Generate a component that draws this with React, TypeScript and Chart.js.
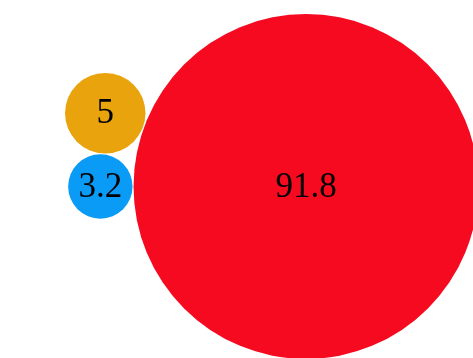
import React, { useEffect, useRef } from "react";
import { Chart, registerables } from "chart.js";

Chart.register(...registerables);

const labels = ["Red", "Orange", "Blue"];
const values = [91.8, 5, 3.2];
const colors = ["#F50A20", "#E8A30D", "#0A9BF7"];

const WIDTH = 473;
const HEIGHT = 358;
const PX_PER_UNIT = 18;
const GAP = 1 / PX_PER_UNIT;

// Pack circles: largest at origin, smallest tangent on its left, middle tangent above both
function pack(vals: number[]) {
  const r = vals.map((v) => Math.sqrt(v));
  const [rRed, rOr, rBl] = r;
  const red = { x: 0, y: 0 };
  const blue = { x: -(rRed + rBl + GAP), y: 0 };
  const d1 = rRed + rOr + GAP; // to red
  const d2 = rBl + rOr + GAP; // to blue
  const D = red.x - blue.x;
  const a = (d2 * d2 - d1 * d1 + D * D) / (2 * D);
  const h = Math.sqrt(Math.max(0, d2 * d2 - a * a));
  const orange = { x: blue.x + a, y: h };
  return [
    { x: red.x, y: red.y, r: rRed * PX_PER_UNIT },
    { x: orange.x, y: orange.y, r: rOr * PX_PER_UNIT },
    { x: blue.x, y: blue.y, r: rBl * PX_PER_UNIT },
  ];
}

const labelPlugin = {
  id: "bubbleLabels",
  afterDatasetsDraw(chart: any) {
    const ctx = chart.ctx;
    const meta = chart.getDatasetMeta(0);
    ctx.save();
    ctx.fillStyle = "#000";
    ctx.font = '35px "Liberation Serif", "Times New Roman", serif';
    ctx.textAlign = "center";
    ctx.textBaseline = "middle";
    meta.data.forEach((el: any, i: number) => {
      ctx.fillText(String(values[i]), el.x, el.y + 1);
    });
    ctx.restore();
  },
};

export default function App() {
  const ref = useRef<HTMLCanvasElement>(null);
  useEffect(() => {
    const pts = pack(values);
    const cx = 306, cy = 186.5;
    const chart = new Chart(ref.current!, {
      type: "bubble",
      data: {
        labels,
        datasets: [
          {
            data: pts.map((p) => ({ x: p.x, y: p.y, r: p.r })),
            backgroundColor: colors,
            borderWidth: 0,
            hoverBorderWidth: 0,
            clip: false,
          } as any,
        ],
      },
      options: {
        responsive: false,
        animation: false,
        events: [],
        layout: { padding: 0, autoPadding: false },
        plugins: { legend: { display: false }, tooltip: { enabled: false } },
        scales: {
          x: { type: "linear", display: false, min: -cx / PX_PER_UNIT, max: (WIDTH - cx) / PX_PER_UNIT },
          y: { type: "linear", display: false, min: -(HEIGHT - cy) / PX_PER_UNIT, max: cy / PX_PER_UNIT },
        },
      },
      plugins: [labelPlugin],
    });
    return () => chart.destroy();
  }, []);
  return (
    <div style={{ position: "fixed", left: 0, top: 0, width: WIDTH, height: HEIGHT, background: "#fff" }}>
      <canvas ref={ref} width={WIDTH} height={HEIGHT} style={{ display: "block" }} />
    </div>
  );
}
